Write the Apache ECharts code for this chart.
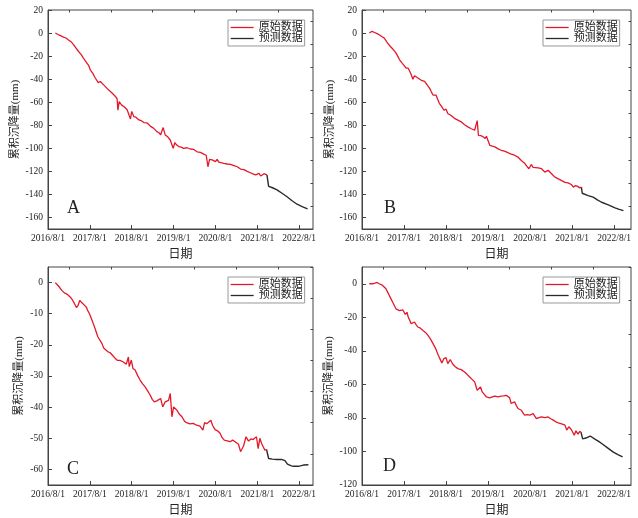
<!DOCTYPE html>
<html><head><meta charset="utf-8">
<script src="https://cdn.jsdelivr.net/npm/echarts@6/dist/echarts.min.js"></script>
<style>html,body{margin:0;padding:0;background:#fff}#c{width:638px;height:518px}</style>
</head><body><div id="c"></div>
<script>
// x values: years after 2016/8/1
const xTickYears = [0, 1, 2, 3, 4, 5, 6];
const xMinorYears = [0.5, 1.5, 2.5, 3.5, 4.5, 5.5];
const seriesNames = ['原始数据', '预测数据'];
const panelLetters = ['A', 'B', 'C', 'D'];

const yTicksAB = [-160, -140, -120, -100, -80, -60, -40, -20, 0, 20];
const yMinorAB = [-170, -150, -130, -110, -90, -70, -50, -30, -10, 10];
const yTicksC = [-60, -50, -40, -30, -20, -10, 0];
const yMinorC = [-65, -55, -45, -35, -25, -15, -5, 5];
const yTicksD = [-120, -100, -80, -60, -40, -20, 0];
const yMinorD = [-110, -90, -70, -50, -30, -10, 10];

const A_obs = [[0.175,0],[0.25,-1.5],[0.3,-2.2],[0.37,-3.5],[0.43,-4.3],[0.49,-6],[0.55,-7.5],[0.61,-10],[0.67,-13],[0.73,-16],[0.79,-18.5],[0.85,-22],[0.89,-23.5],[0.93,-26],[0.97,-28],[1.01,-32],[1.07,-35],[1.13,-39],[1.17,-40.5],[1.2,-43],[1.25,-42],[1.29,-43.5],[1.33,-45],[1.37,-46],[1.41,-48],[1.47,-50],[1.53,-52],[1.57,-53],[1.61,-55],[1.65,-57],[1.67,-67],[1.7,-59.5],[1.73,-61],[1.76,-62.5],[1.82,-64],[1.89,-66.6],[1.93,-68],[1.97,-74.5],[2.0,-68],[2.05,-72.5],[2.1,-73],[2.17,-75.4],[2.23,-76],[2.29,-77.7],[2.37,-78],[2.45,-81],[2.52,-82.5],[2.6,-85.5],[2.65,-86.5],[2.69,-88.4],[2.75,-82],[2.8,-88.4],[2.86,-90],[2.92,-92.8],[2.99,-100],[3.03,-95],[3.07,-97],[3.12,-98.5],[3.18,-99],[3.24,-100],[3.32,-99.5],[3.4,-100.6],[3.48,-101],[3.56,-103],[3.64,-103.5],[3.72,-105],[3.78,-106],[3.82,-116],[3.86,-109.6],[3.92,-110],[3.96,-110.7],[4.0,-111.5],[4.04,-109.6],[4.08,-112],[4.12,-113],[4.2,-113],[4.28,-113.6],[4.36,-114],[4.44,-115],[4.52,-116],[4.6,-118],[4.68,-118.5],[4.76,-120],[4.82,-121],[4.88,-122],[4.92,-121],[4.96,-123],[5.0,-122.5],[5.04,-121.7],[5.08,-124],[5.12,-124],[5.16,-122],[5.19,-122.3],[5.23,-123]];
const A_pred = [[5.23,-123],[5.27,-133],[5.35,-134],[5.47,-136],[5.59,-139],[5.71,-142],[5.83,-145.5],[5.95,-148.5],[6.07,-150.5],[6.2,-152.5]];

const B_obs = [[0.175,0],[0.2,-1],[0.24,1.5],[0.3,0.5],[0.36,-0.5],[0.41,-1.5],[0.47,-3],[0.53,-4.4],[0.57,-6.5],[0.61,-8.7],[0.66,-11],[0.71,-13],[0.76,-15],[0.81,-17.4],[0.85,-20],[0.89,-23],[0.94,-25.5],[0.99,-27.6],[1.05,-30.5],[1.1,-30.5],[1.14,-33.5],[1.17,-36],[1.21,-40],[1.25,-37],[1.29,-38.5],[1.33,-39],[1.41,-41],[1.49,-42],[1.55,-45],[1.61,-48],[1.65,-51],[1.69,-53.8],[1.76,-53.8],[1.8,-57.5],[1.84,-61],[1.9,-64],[1.95,-67],[2.0,-66],[2.04,-69.8],[2.12,-71.5],[2.2,-74],[2.28,-75.5],[2.36,-77],[2.44,-79.5],[2.52,-81.4],[2.6,-83],[2.68,-84.3],[2.72,-86],[2.74,-76],[2.77,-88.7],[2.83,-89],[2.88,-90],[2.93,-91.5],[2.96,-89.5],[2.99,-88],[3.04,-97.4],[3.1,-98],[3.16,-98.8],[3.24,-100.5],[3.31,-101.7],[3.39,-102.5],[3.47,-103.8],[3.55,-105],[3.63,-106],[3.71,-107.6],[3.79,-110.5],[3.87,-113],[3.92,-115.5],[3.97,-117.7],[4.03,-114],[4.07,-116.5],[4.11,-117.7],[4.19,-117],[4.27,-117.7],[4.35,-120.6],[4.43,-119],[4.51,-122],[4.59,-125],[4.67,-126.5],[4.75,-128],[4.83,-129.5],[4.9,-130],[4.98,-131.4],[5.03,-133.7],[5.08,-132.3],[5.13,-133],[5.18,-134.3],[5.22,-133.7]];
const B_pred = [[5.22,-133.7],[5.24,-139],[5.38,-141],[5.5,-142.4],[5.6,-144.8],[5.7,-146.8],[5.86,-149],[6.02,-151.7],[6.12,-153],[6.22,-154]];

const C_obs = [[0.175,0],[0.25,-1.1],[0.33,-2.5],[0.39,-3.3],[0.45,-3.7],[0.53,-4.6],[0.58,-5.5],[0.63,-6.7],[0.68,-8],[0.72,-7.3],[0.76,-5.7],[0.81,-6.5],[0.85,-6.2],[0.91,-7.8],[0.95,-9],[0.99,-10],[1.05,-12],[1.09,-13.5],[1.13,-15],[1.19,-17.4],[1.23,-17.4],[1.29,-19.6],[1.33,-21],[1.37,-21.2],[1.43,-22.2],[1.49,-22.6],[1.55,-23.5],[1.61,-24.4],[1.66,-25],[1.72,-25],[1.8,-25.5],[1.87,-26.2],[1.92,-23.9],[1.94,-27],[1.99,-24.9],[2.03,-27.6],[2.08,-28.1],[2.14,-29.8],[2.2,-31.3],[2.26,-32.5],[2.32,-33.5],[2.38,-34.8],[2.44,-36.1],[2.49,-37.5],[2.54,-38.3],[2.6,-38],[2.64,-37.5],[2.69,-37.2],[2.74,-39.9],[2.8,-38.3],[2.88,-37.8],[2.92,-35.6],[2.96,-43.1],[3.0,-39.9],[3.04,-40.2],[3.08,-41],[3.14,-42.3],[3.2,-43.1],[3.26,-44.5],[3.31,-45],[3.39,-45.4],[3.47,-45.2],[3.55,-45.8],[3.63,-46.1],[3.7,-47.4],[3.74,-45],[3.79,-45.3],[3.83,-45],[3.89,-44.2],[3.93,-45.8],[3.99,-47.2],[4.05,-47.6],[4.11,-48.4],[4.16,-49.8],[4.21,-50.6],[4.28,-50.8],[4.35,-51.1],[4.41,-50.6],[4.47,-51.1],[4.55,-51.9],[4.6,-54.3],[4.67,-52.5],[4.73,-49.5],[4.79,-50.9],[4.85,-50.2],[4.9,-50.4],[4.98,-49.5],[5.02,-53.3],[5.06,-50],[5.1,-51.6],[5.14,-52.7],[5.18,-53.8],[5.22,-53.6]];
const C_pred = [[5.22,-53.6],[5.27,-56.5],[5.36,-56.7],[5.46,-56.8],[5.58,-56.8],[5.66,-57.2],[5.72,-58.3],[5.8,-58.8],[5.86,-59],[5.98,-59],[6.1,-58.6],[6.22,-58.5]];

const D_obs = [[0.175,0],[0.25,0],[0.31,0.4],[0.36,0.8],[0.41,0],[0.49,-1],[0.57,-3],[0.61,-5],[0.65,-7],[0.69,-9],[0.73,-11],[0.77,-13],[0.81,-15],[0.85,-15.5],[0.89,-16],[0.93,-17],[0.97,-15.5],[1.03,-18.3],[1.07,-17],[1.1,-19.8],[1.14,-22],[1.17,-23.8],[1.21,-23.5],[1.25,-22.8],[1.29,-24.5],[1.33,-25.8],[1.39,-26.5],[1.45,-27.8],[1.51,-29],[1.57,-30.8],[1.63,-33],[1.69,-35.7],[1.75,-38.5],[1.8,-41.7],[1.85,-44.5],[1.9,-47.2],[1.95,-44.6],[2.0,-44],[2.04,-47.6],[2.1,-45.2],[2.16,-48],[2.22,-49.5],[2.28,-50.6],[2.36,-51.2],[2.44,-52.6],[2.5,-54],[2.56,-55.6],[2.62,-57],[2.68,-58.5],[2.74,-63.5],[2.82,-61.5],[2.86,-64.5],[2.91,-66],[2.96,-67.5],[3.0,-68.5],[3.04,-68],[3.1,-67.5],[3.16,-67],[3.24,-67.4],[3.31,-67],[3.37,-66.8],[3.43,-66.5],[3.51,-67.9],[3.55,-71.4],[3.63,-70.4],[3.67,-72.5],[3.71,-74.4],[3.79,-75.4],[3.83,-77],[3.87,-78.4],[3.93,-78],[3.99,-78.4],[4.07,-77.4],[4.15,-80.4],[4.21,-79.8],[4.27,-79.4],[4.35,-79.8],[4.43,-79.4],[4.49,-80.5],[4.55,-81.3],[4.61,-82.3],[4.67,-82.9],[4.75,-83.5],[4.83,-84.3],[4.87,-87.3],[4.92,-85.3],[4.98,-86.9],[5.05,-90.3],[5.09,-87.7],[5.14,-89.7],[5.18,-88],[5.21,-88.5]];
const D_pred = [[5.21,-88.5],[5.25,-92.5],[5.35,-91.8],[5.43,-90.8],[5.55,-92.8],[5.63,-94],[5.71,-95.4],[5.85,-98],[5.98,-100.4],[6.1,-102],[6.2,-103.3]];

const FONT = "'Liberation Serif','Noto Sans CJK SC',serif";
const panels = [
  {obs:A_obs, pred:A_pred, yMin:-170, yMax:20, yTicks:yTicksAB, yMinor:yMinorAB, xMax:6.33,
   grid:{left:48, top:10, width:265, height:219}, legend:{left:228, top:20}, letter:{x:67, y:199}, nameGap:27},
  {obs:B_obs, pred:B_pred, yMin:-170, yMax:20, yTicks:yTicksAB, yMinor:yMinorAB, xMax:6.4,
   grid:{left:362, top:10, width:269, height:219}, legend:{left:543, top:20}, letter:{x:384, y:199}, nameGap:23},
  {obs:C_obs, pred:C_pred, yMin:-65, yMax:5, yTicks:yTicksC, yMinor:yMinorC, xMax:6.33,
   grid:{left:48, top:267, width:265, height:218}, legend:{left:228, top:277}, letter:{x:67, y:460}, nameGap:23},
  {obs:D_obs, pred:D_pred, yMin:-120, yMax:10, yTicks:yTicksD, yMinor:yMinorD, xMax:6.4,
   grid:{left:362, top:267, width:269, height:218}, legend:{left:543, top:277}, letter:{x:383, y:457}, nameGap:27}
];

const AXC = '#444', TXT = '#222';
const option = {animation:false, grid:[], xAxis:[], yAxis:[], series:[], legend:[], graphic:[]};
panels.forEach((p, i) => {
  option.grid.push(Object.assign({show:true, borderColor:AXC, borderWidth:1, backgroundColor:'transparent'}, p.grid));
  option.xAxis.push({type:'value', gridIndex:i, min:0, max:p.xMax,
    name:'日期', nameLocation:'middle', nameGap:20, nameTextStyle:{fontSize:12, color:TXT, fontFamily:FONT},
    axisLine:{show:true, onZero:false, lineStyle:{color:AXC, width:1}},
    axisTick:{show:true, inside:true, length:4, customValues:xTickYears, lineStyle:{color:AXC}},
    axisLabel:{show:true, customValues:xTickYears, margin:5, fontSize:9.5, color:TXT, fontFamily:FONT,
      formatter: v => (2016 + Math.round(v)) + '/8/1'},
    splitLine:{show:false}});
  option.xAxis.push({type:'value', gridIndex:i, min:0, max:p.xMax,
    axisLine:{show:false, onZero:false}, axisLabel:{show:false}, splitLine:{show:false},
    axisTick:{show:true, inside:true, length:2.5, customValues:xMinorYears, lineStyle:{color:AXC}}});
  option.yAxis.push({type:'value', gridIndex:i, min:p.yMin, max:p.yMax,
    name:'累积沉降量(mm)', nameLocation:'middle', nameGap:p.nameGap, nameRotate:90,
    nameTextStyle:{fontSize:11, color:TXT, fontFamily:FONT},
    axisLine:{show:true, onZero:false, lineStyle:{color:AXC, width:1}},
    axisTick:{show:true, inside:true, length:4, customValues:p.yTicks, lineStyle:{color:AXC}},
    axisLabel:{show:true, customValues:p.yTicks, margin:5, fontSize:9.5, color:TXT, fontFamily:FONT},
    splitLine:{show:false}});
  option.yAxis.push({type:'value', gridIndex:i, min:p.yMin, max:p.yMax,
    axisLine:{show:false, onZero:false}, axisLabel:{show:false}, splitLine:{show:false},
    axisTick:{show:true, inside:true, length:2.5, customValues:p.yMinor, lineStyle:{color:AXC}}});
  option.series.push({type:'line', name:seriesNames[0], xAxisIndex:2*i, yAxisIndex:2*i, data:p.obs,
    symbol:'none', showSymbol:false, lineStyle:{color:'#e3192a', width:1.3}, itemStyle:{color:'#e3192a'}, z:3});
  option.series.push({type:'line', name:seriesNames[1], xAxisIndex:2*i, yAxisIndex:2*i, data:p.pred,
    symbol:'none', showSymbol:false, lineStyle:{color:'#2a2a2a', width:1.4}, itemStyle:{color:'#2a2a2a'}, z:2});
  option.legend.push({left:p.legend.left, top:p.legend.top, orient:'vertical', data:seriesNames,
    itemWidth:23, itemHeight:12, itemGap:0, padding:[2,2,2,2], borderColor:'#999', borderWidth:1,
    itemStyle:{opacity:0}, lineStyle:{width:1.3},
    selectedMode:false, textStyle:{fontSize:11, color:TXT, fontFamily:FONT}});
  option.graphic.push({type:'text', left:p.letter.x, top:p.letter.y,
    style:{text:panelLetters[i], font:"18px 'Liberation Serif', serif", fill:TXT}});
});
echarts.init(document.getElementById('c'), null, {renderer:'canvas'}).setOption(option);
</script></body></html>
